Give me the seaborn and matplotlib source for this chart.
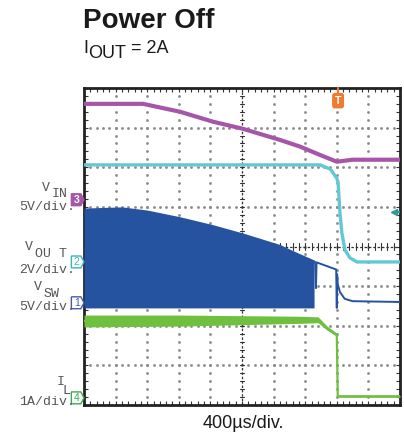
import numpy as np
import pandas as pd
import matplotlib
matplotlib.use("Agg")
import matplotlib.pyplot as plt
from matplotlib.patches import Polygon
import seaborn as sns

# ---------------- data (in screen divisions: x 0..10, y 0..8) ----------------
t_vin = [0.0, 1.87, 3.04, 4.08, 5.03, 6.2, 6.84, 7.47, 8.0, 8.5, 10.0]
vin = [7.60, 7.60, 7.40, 7.15, 6.97, 6.69, 6.52, 6.31, 6.14, 6.19, 6.19]

t_vout = [0.0, 7.47, 7.8, 8.0, 8.04, 8.10, 8.16, 8.26, 8.42, 8.64, 10.0]
vout = [6.06, 6.06, 5.95, 5.72, 5.62, 4.85, 4.34, 3.91, 3.71, 3.61, 3.61]

t_sw = [0.0, 1.2, 2.0, 3.04, 4.08, 5.03, 6.2, 6.6, 7.28]
sw_top = [4.97, 5.00, 4.92, 4.75, 4.55, 4.34, 4.05, 3.90, 3.66]
sw_bot = [2.45, 2.45, 2.45, 2.45, 2.45, 2.45, 2.45, 2.45, 2.45]

t_sw_tail = [7.28, 7.32, 7.34, 7.36, 7.98, 8.0, 8.01, 8.03, 8.1, 8.25, 8.5, 10.0]
sw_tail = [3.62, 3.60, 2.95, 3.60, 3.42, 2.45, 3.30, 3.05, 2.85, 2.68, 2.62, 2.60]

t_il = [0.0, 3.0, 6.8, 7.41, 7.69, 8.0, 8.03, 10.0]
il = [2.12, 2.13, 2.15, 2.15, 1.94, 1.77, 0.22, 0.22]
il_ripple = [0.30, 0.28, 0.18, 0.15, 0.10, 0.08, 0.05, 0.05]

channels = ["3", "2", "1", "4"]
ch_levels = [5.18, 3.61, 2.58, 0.18]
trig_time = 8.04
trig_level = 4.87

title = "Power Off"
x_label = "400µs/div."

# ---------------- styling ----------------
C_VIN = "#a656a9"
C_VOUT = "#62c9d4"
C_SW = "#2553a0"
C_IL = "#70c040"
C_TRIG = "#f07a30"
C_TEAL = "#2a9a9a"
ch_colors = [C_VIN, "#3bb5c0", "#4a5ab0", "#3aaa50"]
ch_filled = [True, False, False, False]

sns.set_style("white")
plt.rcParams["font.family"] = ["Liberation Sans", "DejaVu Sans"]

W, H = 404, 438
fig = plt.figure(figsize=(W / 100, H / 100), dpi=100)
ax = fig.add_axes([84 / W, 33 / H, 316 / W, 317 / H])
ax.set_xlim(0, 10)
ax.set_ylim(0, 8)

# graticule dots
dot_c = "#8a8a8a"
for gx in range(1, 10):
    if gx == 5:
        continue
    ys = np.arange(0, 8.001, 0.2)
    ax.plot([gx] * len(ys), ys, ls="none", marker="s", ms=0.9, color=dot_c, zorder=1)
for gy in range(1, 8):
    if gy == 4:
        continue
    xs = np.arange(0, 10.001, 0.2)
    ax.plot(xs, [gy] * len(xs), ls="none", marker="s", ms=0.9, color=dot_c, zorder=1)
# center crosshair
ax.plot([0, 10], [4, 4], color="#333333", lw=0.9, ls=(0, (2, 1.5)), zorder=1)
ax.plot([5, 5], [0, 8], color="#333333", lw=0.9, ls=(0, (2, 1.5)), zorder=1)
for xv in np.arange(0, 10.001, 0.2):
    ax.plot([xv, xv], [3.92, 4.08], color="#333333", lw=0.8, zorder=1)
for yv in np.arange(0, 8.001, 0.2):
    ax.plot([4.94, 5.06], [yv, yv], color="#333333", lw=0.8, zorder=1)

# traces
ax.fill_between(t_sw, sw_bot, sw_top, color=C_SW, lw=0, zorder=3)
sns.lineplot(x=t_sw_tail, y=sw_tail, ax=ax, color=C_SW, lw=1.4, zorder=3, sort=False)
il_arr = np.array(il)
rip = np.array(il_ripple)
ax.fill_between(t_il, il_arr - rip / 2, il_arr + rip / 2, color=C_IL, lw=0, zorder=3)
sns.lineplot(x=t_il, y=il, ax=ax, color=C_IL, lw=1.6, zorder=3, sort=False)
sns.lineplot(x=t_vin, y=vin, ax=ax, color=C_VIN, lw=3.0, zorder=4, sort=False)
sns.lineplot(x=t_vout, y=vout, ax=ax, color=C_VOUT, lw=2.4, zorder=4, sort=False)

# frame
for s in ax.spines.values():
    s.set_visible(True)
    s.set_linewidth(2.0)
    s.set_color("#222222")
ax.set_xticks(np.arange(0, 10.001, 0.2))
ax.set_yticks(np.arange(0, 8.001, 0.2))
ax.tick_params(direction="in", length=3, width=0.8, color="#333333",
               top=True, right=True, bottom=True, left=True,
               labelbottom=False, labelleft=False)
ax.set_xlabel("")
ax.set_ylabel("")

# channel markers
for lab, lvl, col, filled in zip(channels, ch_levels, ch_colors, ch_filled):
    pts = [(-0.40, lvl - 0.15), (-0.10, lvl - 0.15), (0.0, lvl),
           (-0.10, lvl + 0.15), (-0.40, lvl + 0.15)]
    poly = Polygon(pts, closed=True, fc=col if filled else "white", ec=col,
                   lw=1.0, clip_on=False, zorder=6)
    ax.add_patch(poly)
    ax.text(-0.23, lvl, lab, color="white" if filled else col, fontsize=7.5,
            ha="center", va="center", clip_on=False, zorder=7,
            fontweight="bold" if filled else "normal")

# trigger markers
ax.plot([trig_time, trig_time], [8.0, 7.85], color=C_TRIG, lw=1.5, clip_on=False, zorder=6)
ax.text(trig_time, 7.68, "T", color="white", fontsize=7.5, fontweight="bold",
        ha="center", va="center", zorder=7,
        bbox=dict(boxstyle="round,pad=0.2", fc=C_TRIG, ec=C_TRIG))
ax.plot([9.80, 9.97], [trig_level, trig_level], color=C_TEAL, lw=1.6, zorder=6)
ax.plot([9.80], [trig_level], marker="<", ms=5, color=C_TEAL, zorder=6)

# titles
def fx(px):
    return px / W

def fy(py):
    return 1 - py / H

fig.text(fx(83), fy(28), title, fontsize=20, fontweight="bold", color="#1a1a1a",
         ha="left", va="baseline")
fig.text(fx(83), fy(53), "I", fontsize=13, color="#1a1a1a", ha="left", va="baseline")
fig.text(fx(88), fy(58), "OUT", fontsize=13, color="#1a1a1a", ha="left", va="baseline")
fig.text(fx(131), fy(53), "= 2A", fontsize=13, color="#1a1a1a", ha="left", va="baseline")
fig.text(fx(243), fy(424), x_label, fontsize=13, color="#1a1a1a", ha="center", va="center")

# channel labels (monospace, gray)
mono = dict(family=["Liberation Mono", "DejaVu Sans Mono"], color="#555555", fontsize=9.5)
fig.text(fx(46), fy(188), "V", ha="center", va="center", **mono)
fig.text(fx(52), fy(194), "IN", ha="left", va="center", **mono)
fig.text(fx(75), fy(207), "5V/div.", ha="right", va="center", **mono)
fig.text(fx(29), fy(247), "V", ha="center", va="center", **mono)
fig.text(fx(35), fy(254), "OU T", ha="left", va="center", **mono)
fig.text(fx(75), fy(270), "2V/div.", ha="right", va="center", **mono)
fig.text(fx(38), fy(287), "V", ha="center", va="center", **mono)
fig.text(fx(44), fy(294), "SW", ha="left", va="center", **mono)
fig.text(fx(75), fy(307), "5V/div.", ha="right", va="center", **mono)
fig.text(fx(61), fy(382), "I", ha="center", va="center", **mono)
fig.text(fx(66), fy(391), "L", ha="center", va="center", **mono)
fig.text(fx(75), fy(402), "1A/div.", ha="right", va="center", **mono)

fig.savefig("out.png", dpi=100)
